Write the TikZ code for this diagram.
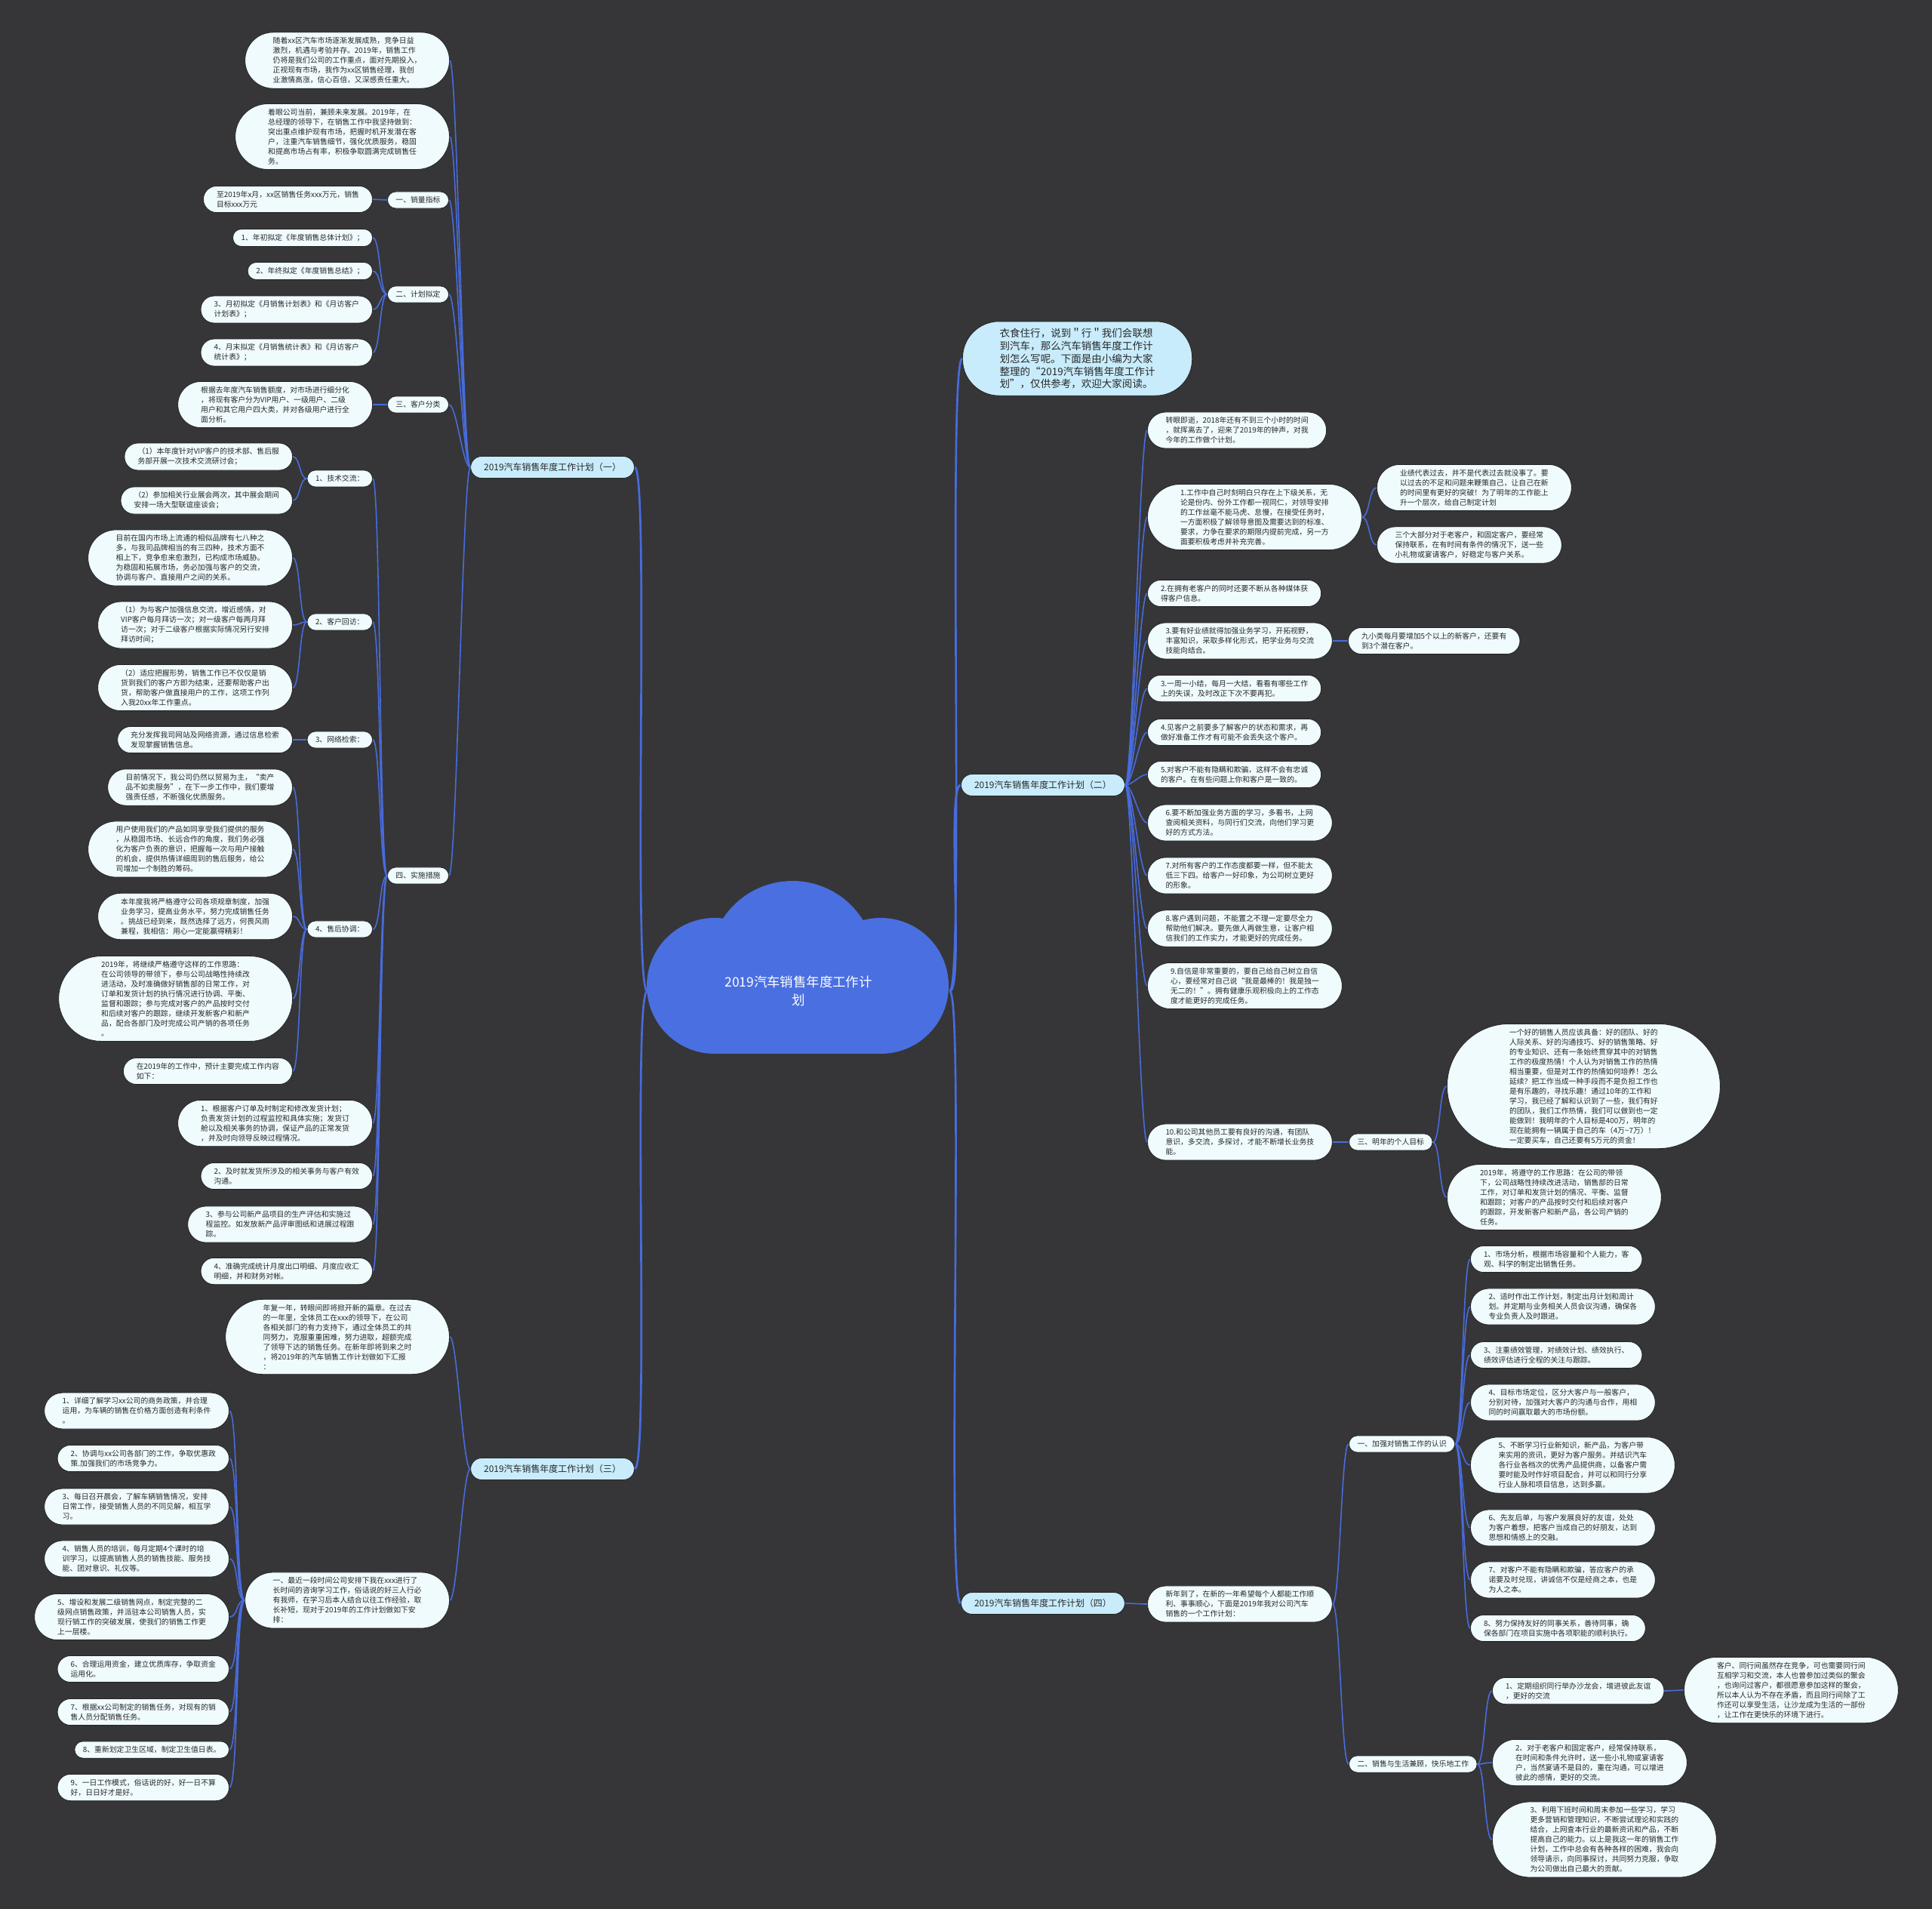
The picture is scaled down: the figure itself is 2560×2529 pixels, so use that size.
\documentclass[tikz,border=0pt]{standalone}
\usepackage{fontspec}
\setmainfont{Noto Sans CJK SC}
\usepackage{tikz}
\definecolor{bgdark}{RGB}{54,54,56}
\definecolor{leaffill}{RGB}{240,251,254}
\definecolor{branchfill}{RGB}{200,236,251}
\definecolor{linkblue}{RGB}{72,108,222}
\definecolor{cloudblue}{RGB}{74,111,224}
\definecolor{txtgray}{RGB}{40,40,40}
\tikzset{
  % pill shape: corner radius and side padding follow the number of lines
  ln/.style={
    /utils/exec={\pgfmathsetmacro\pillr{3.7*#1+2.6}},
    rounded corners=\pillr pt, inner xsep=\pillr pt,
  },
  leaf/.style={
    rectangle, draw=black!85, line width=0.5pt,
    fill=leaffill, text=txtgray, align=left,
    font=\fontsize{5.6}{7.4}\selectfont,
    inner ysep=3.7pt, ln=1,
  },
  branch/.style={
    rectangle, draw=black!85, line width=0.5pt,
    fill=branchfill, text=txtgray,
    font=\fontsize{6.8}{8.5}\selectfont,
    rounded corners=8.3pt, inner xsep=10pt, inner ysep=5pt,
  },
  intro/.style={leaf, fill=branchfill, font=\fontsize{7.7}{9.6}\selectfont,
    inner ysep=5pt, rounded corners=27.5pt, inner xsep=28pt},
  link/.style={draw=linkblue, line width=0.9pt},
  trunk/.style={draw=linkblue, line width=1.5pt},
}

\begin{document}
\begin{tikzpicture}[x=0.02cm, y=-0.02cm]
  \fill[bgdark] (0,0) rectangle (2560,2529);
  \useasboundingbox (0,0) rectangle (2560,2529);

  % Root cloud
  \fill[cloudblue] (1050,1277) circle (2.2cm);
  \fill[cloudblue] (947,1306) circle (1.8cm);
  \fill[cloudblue] (1167,1306) circle (1.8cm);
  \fill[cloudblue] (947,1260) rectangle (1167,1396);
  \node[text=white, align=center, font=\fontsize{9.9}{14}\selectfont,
        minimum width=8cm] (root) at (1058,1313) {2019汽车销售年度工作计\\划};

  % Branch labels
  \node[branch, anchor=east] (p1) at (841,619)  {2019汽车销售年度工作计划（一）};
  \node[branch, anchor=east] (p3) at (841,1946) {2019汽车销售年度工作计划（三）};
  \node[intro, anchor=west]  (intro) at (1275,475) {衣食住行，说到＂行＂我们会联想\\到汽车，那么汽车销售年度工作计\\划怎么写呢。下面是由小编为大家\\整理的“2019汽车销售年度工作计\\划”，仅供参考，欢迎大家阅读。};
  \node[branch, anchor=west] (p2) at (1273,1040) {2019汽车销售年度工作计划（二）};
  \node[branch, anchor=west] (p4) at (1273,2124) {2019汽车销售年度工作计划（四）};

  % Plan (1)
  \node[leaf, ln=5, anchor=east] (n1a) at (596,80) {随着xx区汽车市场逐渐发展成熟，竞争日益\\激烈，机遇与考验并存。2019年，销售工作\\仍将是我们公司的工作重点，面对先期投入，\\正视现有市场，我作为xx区销售经理，我创\\业激情高涨，信心百倍，又深感责任重大。};
  \node[leaf, ln=6, anchor=east] (n1b) at (596,181) {着眼公司当前，兼顾未来发展。2019年，在\\总经理的领导下，在销售工作中我坚持做到：\\突出重点维护现有市场，把握时机开发潜在客\\户，注重汽车销售细节，强化优质服务，稳固\\和提高市场占有率，积极争取圆满完成销售任\\务。};
  \node[leaf, anchor=east] (s1) at (595,265) {一、销量指标};
  \node[leaf, ln=2, anchor=east] (s1a) at (494,264) {至2019年x月，xx区销售任务xxx万元，销售\\目标xxx万元};
  \node[leaf, anchor=east] (s2) at (595,390) {二、计划拟定};
  \node[leaf, anchor=east] (s2a) at (494,315) {1、年初拟定《年度销售总体计划》；};
  \node[leaf, anchor=east] (s2b) at (494,359) {2、年终拟定《年度销售总结》；};
  \node[leaf, ln=2, anchor=east] (s2c) at (494,410) {3、月初拟定《月销售计划表》和《月访客户\\计划表》；};
  \node[leaf, ln=2, anchor=east] (s2d) at (494,467) {4、月末拟定《月销售统计表》和《月访客户\\统计表》；};
  \node[leaf, anchor=east] (s3) at (595,536) {三、客户分类};
  \node[leaf, ln=4, anchor=east] (s3a) at (494,536) {根据去年度汽车销售额度，对市场进行细分化\\，将现有客户分为VIP用户、一级用户、二级\\用户和其它用户四大类，并对各级用户进行全\\面分析。};
  \node[leaf, anchor=east] (s4) at (595,1160) {四、实施措施};
  \node[leaf, anchor=east] (t1) at (494,634) {1、技术交流：};
  \node[leaf, ln=2, anchor=east] (t1a) at (388,605) {（1）本年度针对VIP客户的技术部、售后服\\务部开展一次技术交流研讨会；};
  \node[leaf, ln=2, anchor=east] (t1b) at (388,663) {（2）参加相关行业展会两次，其中展会期间\\安排一场大型联谊座谈会；};
  \node[leaf, anchor=east] (t2) at (494,824) {2、客户回访：};
  \node[leaf, ln=5, anchor=east] (t2a) at (388,739) {目前在国内市场上流通的相似品牌有七八种之\\多，与我司品牌相当的有三四种，技术方面不\\相上下，竞争愈来愈激烈，已构成市场威胁。\\为稳固和拓展市场，务必加强与客户的交流，\\协调与客户、直接用户之间的关系。};
  \node[leaf, ln=4, anchor=east] (t2b) at (388,828) {（1）为与客户加强信息交流，增近感情，对\\VIP客户每月拜访一次；对一级客户每两月拜\\访一次；对于二级客户根据实际情况另行安排\\拜访时间；};
  \node[leaf, ln=4, anchor=east] (t2c) at (388,911) {（2）适应把握形势，销售工作已不仅仅是销\\货到我们的客户方即为结束，还要帮助客户出\\货，帮助客户做直接用户的工作，这项工作列\\入我20xx年工作重点。};
  \node[leaf, anchor=east] (t3) at (494,980) {3、网络检索：};
  \node[leaf, ln=2, anchor=east] (t3a) at (388,980) {充分发挥我司网站及网络资源，通过信息检索\\发现掌握销售信息。};
  \node[leaf, anchor=east] (t4) at (494,1231) {4、售后协调：};
  \node[leaf, ln=3, anchor=east] (t4a) at (388,1043) {目前情况下，我公司仍然以贸易为主，“卖产\\品不如卖服务”，在下一步工作中，我们要增\\强责任感，不断强化优质服务。};
  \node[leaf, ln=5, anchor=east] (t4b) at (388,1125) {用户使用我们的产品如同享受我们提供的服务\\，从稳固市场、长远合作的角度，我们务必强\\化为客户负责的意识，把握每一次与用户接触\\的机会，提供热情详细周到的售后服务，给公\\司增加一个制胜的筹码。};
  \node[leaf, ln=4, anchor=east] (t4c) at (388,1214) {本年度我将严格遵守公司各项规章制度，加强\\业务学习，提高业务水平，努力完成销售任务\\。挑战已经到来，既然选择了远方，何畏风雨\\兼程，我相信：用心一定能赢得精彩！};
  \node[leaf, ln=8, anchor=east] (t4d) at (388,1323) {2019年，将继续严格遵守这样的工作思路：\\在公司领导的带领下，参与公司战略性持续改\\进活动，及时准确做好销售部的日常工作，对\\订单和发货计划的执行情况进行协调、平衡、\\监督和跟踪；参与完成对客户的产品按时交付\\和后续对客户的跟踪，继续开发新客户和新产\\品，配合各部门及时完成公司产销的各项任务\\。};
  \node[leaf, ln=2, anchor=east] (t4e) at (388,1419) {在2019年的工作中，预计主要完成工作内容\\如下：};
  \node[leaf, ln=4, anchor=east] (s4a) at (494,1488) {1、根据客户订单及时制定和修改发货计划；\\负责发货计划的过程监控和具体实施；发货订\\舱以及相关事务的协调，保证产品的正常发货\\，并及时向领导反映过程情况。};
  \node[leaf, ln=2, anchor=east] (s4b) at (494,1558) {2、及时就发货所涉及的相关事务与客户有效\\沟通。};
  \node[leaf, ln=3, anchor=east] (s4c) at (494,1622) {3、参与公司新产品项目的生产评估和实施过\\程监控。如发放新产品评审图纸和进展过程跟\\踪。};
  \node[leaf, ln=2, anchor=east] (s4d) at (494,1684) {4、准确完成统计月度出口明细、月度应收汇\\明细，并和财务对帐。};

  % Plan (3)
  \node[leaf, ln=7, anchor=east] (p3a) at (596,1771) {年复一年，转眼间即将掀开新的篇章。在过去\\的一年里，全体员工在xxx的领导下，在公司\\各相关部门的有力支持下，通过全体员工的共\\同努力，克服重重困难，努力进取，超额完成\\了领导下达的销售任务。在新年即将到来之时\\，将2019年的汽车销售工作计划做如下汇报\\：};
  \node[leaf, ln=5, anchor=east] (p3b) at (596,2120) {一、最近一段时间公司安排下我在xxx进行了\\长时间的咨询学习工作，俗话说的好三人行必\\有我师，在学习后本人结合以往工作经验，取\\长补短，现对于2019年的工作计划做如下安\\排：};
  \node[leaf, ln=3, anchor=east] (q1) at (304,1869) {1、详细了解学习xx公司的商务政策，并合理\\运用，为车辆的销售在价格方面创造有利条件\\。};
  \node[leaf, ln=2, anchor=east] (q2) at (304,1932) {2、协调与xx公司各部门的工作，争取优惠政\\策.加强我们的市场竞争力。};
  \node[leaf, ln=3, anchor=east] (q3) at (304,1996) {3、每日召开晨会，了解车辆销售情况，安排\\日常工作，接受销售人员的不同见解，相互学\\习。};
  \node[leaf, ln=3, anchor=east] (q4) at (304,2065) {4、销售人员的培训，每月定期4个课时的培\\训学习，以提高销售人员的销售技能、服务技\\能、团对意识、礼仪等。};
  \node[leaf, ln=4, anchor=east] (q5) at (304,2142) {5、增设和发展二级销售网点，制定完整的二\\级网点销售政策，并派驻本公司销售人员，实\\现行销工作的突破发展，使我们的销售工作更\\上一层楼。};
  \node[leaf, ln=2, anchor=east] (q6) at (304,2211) {6、合理运用资金，建立优质库存，争取资金\\运用化。};
  \node[leaf, ln=2, anchor=east] (q7) at (304,2268) {7、根据xx公司制定的销售任务，对现有的销\\售人员分配销售任务。};
  \node[leaf, anchor=east] (q8) at (304,2318) {8、重新划定卫生区域，制定卫生值日表。};
  \node[leaf, ln=2, anchor=east] (q9) at (304,2368) {9、一日工作模式，俗话说的好，好一日不算\\好，日日好才是好。};

  % Plan (2)
  \node[leaf, ln=3, anchor=west] (r0) at (1520,570) {转眼即逝，2018年还有不到三个小时的时间\\，就挥离去了，迎来了2019年的钟声，对我\\今年的工作做个计划。};
  \node[leaf, ln=6, anchor=west] (r1) at (1520,685) {1.工作中自己时刻明白只存在上下级关系，无\\论是份内、份外工作都一视同仁，对领导安排\\的工作丝毫不能马虎、怠慢，在接受任务时，\\一方面积极了解领导意图及需要达到的标准、\\要求，力争在要求的期限内提前完成，另一方\\面要积极考虑并补充完善。};
  \node[leaf, ln=4, anchor=west] (r1a) at (1824,646) {业绩代表过去，并不是代表过去就没事了。要\\以过去的不足和问题来鞭策自己，让自己在新\\的时间里有更好的突破！为了明年的工作能上\\升一个层次，给自己制定计划};
  \node[leaf, ln=3, anchor=west] (r1b) at (1824,722) {三个大部分对于老客户，和固定客户，要经常\\保持联系，在有时间有条件的情况下，送一些\\小礼物或宴请客户，好稳定与客户关系。};
  \node[leaf, ln=2, anchor=west] (r2) at (1520,786) {2.在拥有老客户的同时还要不断从各种媒体获\\得客户信息。};
  \node[leaf, ln=3, anchor=west] (r3) at (1520,849) {3.要有好业绩就得加强业务学习，开拓视野，\\丰富知识，采取多样化形式，把学业务与交流\\技能向结合。};
  \node[leaf, ln=2, anchor=west] (r3a) at (1786,849) {九小类每月要增加5个以上的新客户，还要有\\到3个潜在客户。};
  \node[leaf, ln=2, anchor=west] (r3b) at (1520,912) {3.一周一小结，每月一大结，看看有哪些工作\\上的失误，及时改正下次不要再犯。};
  \node[leaf, ln=2, anchor=west] (r4) at (1520,970) {4.见客户之前要多了解客户的状态和需求，再\\做好准备工作才有可能不会丢失这个客户。};
  \node[leaf, ln=2, anchor=west] (r5) at (1520,1026) {5.对客户不能有隐瞒和欺骗，这样不会有忠诚\\的客户。在有些问题上你和客户是一致的。};
  \node[leaf, ln=3, anchor=west] (r6) at (1520,1090) {6.要不断加强业务方面的学习，多看书，上网\\查阅相关资料，与同行们交流，向他们学习更\\好的方式方法。};
  \node[leaf, ln=3, anchor=west] (r7) at (1520,1160) {7.对所有客户的工作态度都要一样，但不能太\\低三下四。给客户一好印象，为公司树立更好\\的形象。};
  \node[leaf, ln=3, anchor=west] (r8) at (1520,1230) {8.客户遇到问题，不能置之不理一定要尽全力\\帮助他们解决。要先做人再做生意，让客户相\\信我们的工作实力，才能更好的完成任务。};
  \node[leaf, ln=4, anchor=west] (r9) at (1520,1306) {9.自信是非常重要的，要自己给自己树立自信\\心，要经常对自己说“我是最棒的！我是独一\\无二的！”。拥有健康乐观积极向上的工作态\\度才能更好的完成任务。};
  \node[leaf, ln=3, anchor=west] (r10) at (1520,1513) {10.和公司其他员工要有良好的沟通，有团队\\意识，多交流，多探讨，才能不断增长业务技\\能。};
  \node[leaf, anchor=west] (g) at (1787,1513) {三、明年的个人目标};
  \node[leaf, ln=12, anchor=west] (ga) at (1917,1439) {一个好的销售人员应该具备：好的团队、好的\\人际关系、好的沟通技巧、好的销售策略、好\\的专业知识、还有一条始终贯穿其中的对销售\\工作的极度热情！个人认为对销售工作的热情\\相当重要，但是对工作的热情如何培养！怎么\\延续？把工作当成一种手段而不是负担工作也\\是有乐趣的，寻找乐趣！通过10年的工作和\\学习，我已经了解和认识到了一些，我们有好\\的团队，我们工作热情，我们可以做到也一定\\能做到！我明年的个人目标是400万，明年的\\现在能拥有一辆属于自己的车（4万\textasciitilde 7万）！\\一定要买车，自己还要有5万元的资金！};
  \node[leaf, ln=6, anchor=west] (gb) at (1917,1586) {2019年，将遵守的工作思路：在公司的带领\\下，公司战略性持续改进活动，销售部的日常\\工作，对订单和发货计划的情况、平衡、监督\\和跟踪；对客户的产品按时交付和后续对客户\\的跟踪，开发新客户和新产品，各公司产销的\\任务。};

  % Plan (4)
  \node[leaf, ln=3, anchor=west] (w0) at (1520,2125) {新年到了，在新的一年希望每个人都能工作顺\\利、事事顺心，下面是2019年我对公司汽车\\销售的一个工作计划：};
  \node[leaf, anchor=west] (w1) at (1787,1913) {一、加强对销售工作的认识};
  \node[leaf, ln=2, anchor=west] (w1a) at (1948,1668) {1、市场分析，根据市场容量和个人能力，客\\观、科学的制定出销售任务。};
  \node[leaf, ln=3, anchor=west] (w1b) at (1948,1731) {2、适时作出工作计划，制定出月计划和周计\\划。并定期与业务相关人员会议沟通，确保各\\专业负责人及时跟进。};
  \node[leaf, ln=2, anchor=west] (w1c) at (1948,1795) {3、注重绩效管理，对绩效计划、绩效执行、\\绩效评估进行全程的关注与跟踪。};
  \node[leaf, ln=3, anchor=west] (w1d) at (1948,1858) {4、目标市场定位，区分大客户与一般客户，\\分别对待，加强对大客户的沟通与合作，用相\\同的时间赢取最大的市场份额。};
  \node[leaf, ln=5, anchor=west] (w1e) at (1948,1941) {5、不断学习行业新知识，新产品，为客户带\\来实用的资讯，更好为客户服务。并结识汽车\\各行业各档次的优秀产品提供商，以备客户需\\要时能及时作好项目配合，并可以和同行分享\\行业人脉和项目信息，达到多赢。};
  \node[leaf, ln=3, anchor=west] (w1f) at (1948,2024) {6、先友后单，与客户发展良好的友谊，处处\\为客户着想，把客户当成自己的好朋友，达到\\思想和情感上的交融。};
  \node[leaf, ln=3, anchor=west] (w1g) at (1948,2093) {7、对客户不能有隐瞒和欺骗，答应客户的承\\诺要及时兑现，讲诚信不仅是经商之本，也是\\为人之本。};
  \node[leaf, ln=2, anchor=west] (w1h) at (1948,2157) {8、努力保持友好的同事关系，善待同事，确\\保各部门在项目实施中各项职能的顺利执行。};
  \node[leaf, anchor=west] (w2) at (1787,2337) {二、销售与生活兼顾，快乐地工作};
  \node[leaf, ln=2, anchor=west] (w2a) at (1977,2240) {1、定期组织同行举办沙龙会，增进彼此友谊\\，更好的交流};
  \node[leaf, ln=6, anchor=west] (w2x) at (2231,2239) {客户、同行间虽然存在竞争，可也需要同行间\\互相学习和交流，本人也曾参加过类似的聚会\\，也询问过客户，都很愿意参加这样的聚会，\\所以本人认为不存在矛盾，而且同行间除了工\\作还可以享受生活，让沙龙成为生活的一部份\\，让工作在更快乐的环境下进行。};
  \node[leaf, ln=4, anchor=west] (w2b) at (1977,2335) {2、对于老客户和固定客户，经常保持联系，\\在时间和条件允许时，送一些小礼物或宴请客\\户，当然宴请不是目的，重在沟通，可以增进\\彼此的感情，更好的交流。};
  \node[leaf, ln=7, anchor=west] (w2c) at (1977,2437) {3、利用下班时间和周末参加一些学习，学习\\更多营销和管理知识，不断尝试理论和实践的\\结合，上网查本行业的最新资讯和产品，不断\\提高自己的能力。以上是我这一年的销售工作\\计划，工作中总会有各种各样的困难，我会向\\领导请示，向同事探讨，共同努力克服，争取\\为公司做出自己最大的贡献。};

  % Trunks from the cloud
  \foreach \b in {p1,p3}
    \draw[trunk] (root.west) .. controls +(-20,0) and +(20,0) .. (\b.east);
  \foreach \b in {intro,p2,p4}
    \draw[trunk] (root.east) .. controls +(20,0) and +(-20,0) .. (\b.west);

  % Links, left side
  \foreach \c in {n1a,n1b,s1,s2,s3,s4}
    \draw[link] (p1.west) .. controls +(-10,0) and +(10,0) .. (\c.east);
  \draw[link] (s1.west) .. controls +(-10,0) and +(10,0) .. (s1a.east);
  \foreach \c in {s2a,s2b,s2c,s2d}
    \draw[link] (s2.west) .. controls +(-10,0) and +(10,0) .. (\c.east);
  \draw[link] (s3.west) .. controls +(-10,0) and +(10,0) .. (s3a.east);
  \foreach \c in {t1,t2,t3,t4,s4a,s4b,s4c,s4d}
    \draw[link] (s4.west) .. controls +(-10,0) and +(10,0) .. (\c.east);
  \foreach \c in {t1a,t1b}
    \draw[link] (t1.west) .. controls +(-10,0) and +(10,0) .. (\c.east);
  \foreach \c in {t2a,t2b,t2c}
    \draw[link] (t2.west) .. controls +(-10,0) and +(10,0) .. (\c.east);
  \draw[link] (t3.west) .. controls +(-10,0) and +(10,0) .. (t3a.east);
  \foreach \c in {t4a,t4b,t4c,t4d,t4e}
    \draw[link] (t4.west) .. controls +(-10,0) and +(10,0) .. (\c.east);
  \foreach \c in {p3a,p3b}
    \draw[link] (p3.west) .. controls +(-10,0) and +(10,0) .. (\c.east);
  \foreach \c in {q1,q2,q3,q4,q5,q6,q7,q8,q9}
    \draw[link] (p3b.west) .. controls +(-12,0) and +(12,0) .. (\c.east);

  % Links, right side
  \foreach \c in {r0,r1,r2,r3,r3b,r4,r5,r6,r7,r8,r9,r10}
    \draw[link] (p2.east) .. controls +(10,0) and +(-10,0) .. (\c.west);
  \foreach \c in {r1a,r1b}
    \draw[link] (r1.east) .. controls +(10,0) and +(-10,0) .. (\c.west);
  \draw[link] (r3.east) .. controls +(10,0) and +(-10,0) .. (r3a.west);
  \draw[link] (r10.east) .. controls +(10,0) and +(-10,0) .. (g.west);
  \foreach \c in {ga,gb}
    \draw[link] (g.east) .. controls +(10,0) and +(-10,0) .. (\c.west);
  \draw[link] (p4.east) .. controls +(10,0) and +(-10,0) .. (w0.west);
  \foreach \c in {w1,w2}
    \draw[link] (w0.east) .. controls +(10,0) and +(-10,0) .. (\c.west);
  \foreach \c in {w1a,w1b,w1c,w1d,w1e,w1f,w1g,w1h}
    \draw[link] (w1.east) .. controls +(10,0) and +(-10,0) .. (\c.west);
  \foreach \c in {w2a,w2b,w2c}
    \draw[link] (w2.east) .. controls +(10,0) and +(-10,0) .. (\c.west);
  \draw[link] (w2a.east) .. controls +(10,0) and +(-10,0) .. (w2x.west);
\end{tikzpicture}
\end{document}
